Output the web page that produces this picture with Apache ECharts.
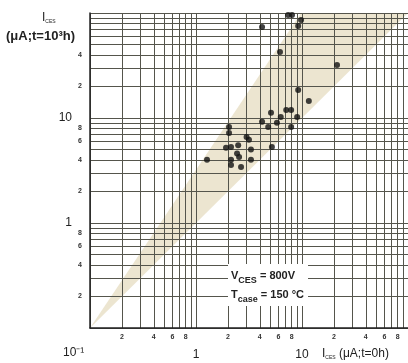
<!DOCTYPE html>
<html>
<head>
<meta charset="utf-8">
<script src="https://cdn.jsdelivr.net/npm/echarts@6/dist/echarts.min.js"></script>
<style>
html,body{margin:0;padding:0;background:#fff}
#chart{width:408px;height:363px}
</style>
</head>
<body>
<div id="chart"></div>
<script>
// grid lines of the log paper, 1..9 in each decade
var gridValues = [0.1,0.2,0.3,0.4,0.5,0.6,0.7,0.8,0.9,
                  1,2,3,4,5,6,7,8,9,
                  10,20,30,40,50,60,70,80,90,100];
var xMinorLabels = [0.2,0.4,0.6,0.8,2,4,6,8,20,40,60,80];
var yMinorLabels = [0.2,0.4,0.6,0.8,2,4,6,8,20,40];
var xDecadeLabels = [1,10];
var yDecadeLabels = [1,10];

// shaded spread band (I at t=0h, I at t=1000h)
var bandPoints = [[0.1,0.1],[9.8,100],[100,100]];

// measured devices: [I at t=0h, I at t=1000h]  (uA)
var devices = [
  [7.4,95.7],[8.05,95.7],[9.8,85.8],[9.2,75.2],[4.2,73.5],[6.2,42.5],
  [21.4,32],[9.2,18.5],[11.6,14.5],
  [5.1,11.2],[6.3,10.2],[7.1,11.9],[7.9,11.9],[9.0,10.2],
  [4.2,9.2],[4.8,8.2],[5.8,9.0],[7.9,8.2],
  [2.05,8.2],[2.05,7.2],[3.0,6.6],[3.16,6.2],[2.5,5.5],[1.92,5.2],
  [2.14,5.3],[3.3,5.0],[5.2,5.3],[2.44,4.6],[2.55,4.25],[1.27,4.0],
  [2.14,4.0],[3.3,4.0],[2.14,3.57],[2.66,3.42]
];

function leadDigit(v){
  var p = Math.pow(10, Math.floor(Math.log10(v) + 1e-9));
  return String(Math.round(v / p));
}

var chart = echarts.init(document.getElementById('chart'));
var gridLine = {show:true, lineStyle:{color:'#55554c', width:1}};
var font = 'Liberation Sans, Arial, sans-serif';

var option = {
  backgroundColor:'#fff',
  animation:false,
  grid:{left:90, top:13, width:318, height:315},
  xAxis:[
    {
      type:'log', logBase:10, min:0.1, max:100,
      axisLine:{show:true, lineStyle:{color:'#222', width:1.5}},
      axisTick:{show:false, customValues:gridValues},
      splitLine:gridLine,
      axisLabel:{customValues:xMinorLabels, formatter:leadDigit, margin:6,
                 fontSize:7, fontWeight:'bold', color:'#333', fontFamily:font}
    },
    {
      type:'log', logBase:10, min:0.1, max:100, position:'bottom', offset:14,
      axisLine:{show:false}, axisTick:{show:false}, splitLine:{show:false},
      axisLabel:{customValues:xDecadeLabels, margin:7,
                 fontSize:12, color:'#222', fontFamily:font}
    }
  ],
  yAxis:[
    {
      type:'log', logBase:10, min:0.1, max:100,
      axisLine:{show:true, lineStyle:{color:'#222', width:1.5}},
      axisTick:{show:false, customValues:gridValues},
      splitLine:gridLine,
      axisLabel:{customValues:yMinorLabels, formatter:leadDigit, margin:8,
                 fontSize:7, fontWeight:'bold', color:'#333', fontFamily:font}
    },
    {
      type:'log', logBase:10, min:0.1, max:100, position:'left', offset:10,
      axisLine:{show:false}, axisTick:{show:false}, splitLine:{show:false},
      axisLabel:{customValues:yDecadeLabels, margin:8,
                 fontSize:12, color:'#222', fontFamily:font}
    }
  ],
  series:[
    {
      type:'custom',
      z:-1,
      clip:true,
      data:[[1,1]],
      renderItem:function(params, api){
        var pts = bandPoints.map(function(p){ return api.coord(p); });
        return {type:'polygon', shape:{points:pts}, style:{fill:'#ece5d0'}};
      }
    },
    {
      type:'scatter',
      data:devices,
      symbolSize:6,
      itemStyle:{color:'#111'},
      z:3
    }
  ],
  graphic:[
    {type:'text', left:42, top:12,
     style:{text:'{i|I}{s|CES}', rich:{i:{fontSize:12, fontFamily:font, fill:'#222'},
                                       s:{fontSize:5, fontFamily:font, fill:'#222', verticalAlign:'bottom'}}}},
    {type:'text', left:6, top:30,
     style:{text:'(μA;t=10³h)', fontSize:13, fontWeight:'bold', fontFamily:font, fill:'#222'}},
    {type:'text', left:63, top:347,
     style:{text:'10⁻¹', fontSize:12, fontFamily:font, fill:'#222'}},
    {type:'text', left:322, top:348,
     style:{text:'{i|I}{s|CES}{n| (μA;t=0h)}', rich:{i:{fontSize:12, fontFamily:font, fill:'#222'},
                                       s:{fontSize:5, fontFamily:font, fill:'#222', verticalAlign:'bottom'},
                                       n:{fontSize:12, fontFamily:font, fill:'#222'}}}},
    {type:'text', left:228, top:264, z:10,
     style:{text:'{v|V}{s|CES}{v| = 800V}\n{v|T}{s|case}{v| = 150 °C}',
            backgroundColor:'#fff', padding:[2,4,2,3], lineHeight:19,
            rich:{v:{fontSize:11, fontWeight:'bold', fontFamily:font, fill:'#222', lineHeight:19},
                  s:{fontSize:9, fontWeight:'bold', fontFamily:font, fill:'#222', lineHeight:19, verticalAlign:'bottom'}}}}
  ]
};
chart.setOption(option);
</script>
</body>
</html>
